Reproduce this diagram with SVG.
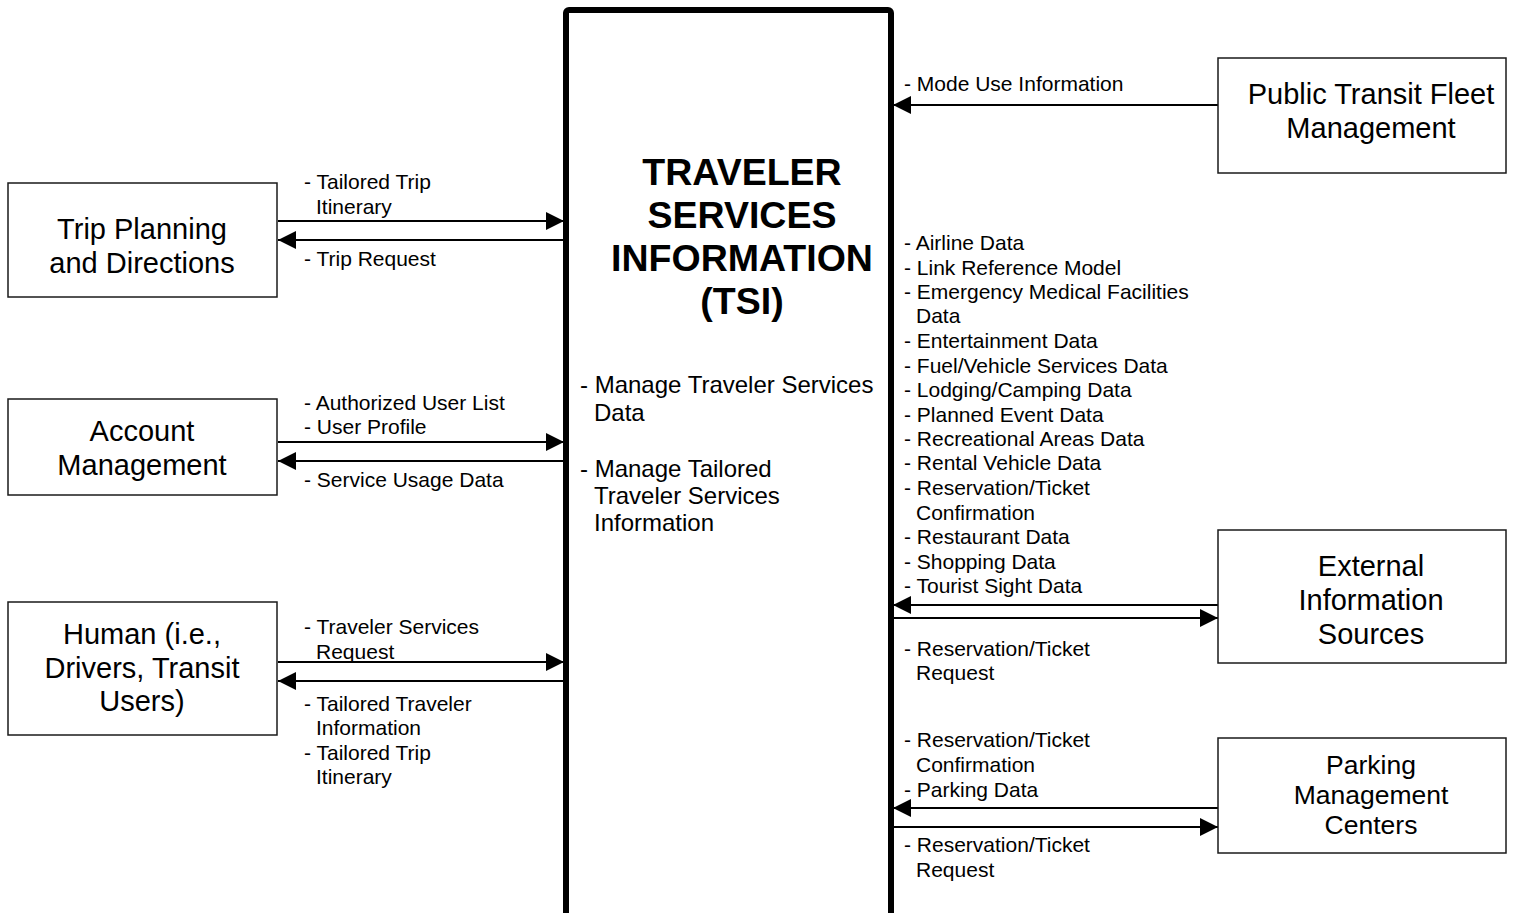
<svg xmlns="http://www.w3.org/2000/svg" width="1515" height="913" viewBox="0 0 1515 913">
<defs>
<style>
.box{fill:#fff;stroke:#1a1a1a;stroke-width:1.5}
.title{font-family:"Liberation Sans",Arial,sans-serif;font-size:29px;fill:#000;text-anchor:middle}
.lbl{font-family:"Liberation Sans",Arial,sans-serif;font-size:21px;fill:#000}
.body{font-family:"Liberation Sans",Arial,sans-serif;font-size:24px;fill:#000}
.big{font-family:"Liberation Sans",Arial,sans-serif;font-size:37.5px;font-weight:bold;fill:#000;text-anchor:middle}
.conn{stroke:#000;stroke-width:2;fill:none;marker-end:url(#arr)}
</style>
<marker id="arr" markerUnits="userSpaceOnUse" markerWidth="18" markerHeight="18" refX="18" refY="9" orient="auto">
<path d="M0,0 L18,9 L0,18 Z" fill="#000"/>
</marker>
</defs>
<rect width="1515" height="913" fill="#fff"/>

<g id="connectors">
<line class="conn" x1="278" y1="221" x2="564" y2="221"/>
<line class="conn" x1="564" y1="240" x2="278" y2="240"/>
<line class="conn" x1="278" y1="442" x2="564" y2="442"/>
<line class="conn" x1="564" y1="461" x2="278" y2="461"/>
<line class="conn" x1="278" y1="662" x2="564" y2="662"/>
<line class="conn" x1="564" y1="681" x2="278" y2="681"/>
<line class="conn" x1="1218" y1="105" x2="893" y2="105"/>
<line class="conn" x1="1218" y1="605" x2="893" y2="605"/>
<line class="conn" x1="893" y1="618" x2="1218" y2="618"/>
<line class="conn" x1="1218" y1="808" x2="893" y2="808"/>
<line class="conn" x1="893" y1="827" x2="1218" y2="827"/>
</g>

<g id="labels">
<text class="lbl" x="304" y="189">- Tailored Trip</text>
<text class="lbl" x="316" y="214">Itinerary</text>
<text class="lbl" x="304" y="266">- Trip Request</text>
<text class="lbl" x="304" y="410">- Authorized User List</text>
<text class="lbl" x="304" y="434">- User Profile</text>
<text class="lbl" x="304" y="487">- Service Usage Data</text>
<text class="lbl" x="304" y="634">- Traveler Services</text>
<text class="lbl" x="316" y="659">Request</text>
<text class="lbl" x="304" y="711">- Tailored Traveler</text>
<text class="lbl" x="316" y="735">Information</text>
<text class="lbl" x="304" y="760">- Tailored Trip</text>
<text class="lbl" x="316" y="784">Itinerary</text>

<text class="lbl" x="904" y="91">- Mode Use Information</text>
<text class="lbl" x="904" y="250">- Airline Data</text>
<text class="lbl" x="904" y="275">- Link Reference Model</text>
<text class="lbl" x="904" y="299">- Emergency Medical Facilities</text>
<text class="lbl" x="916" y="323">Data</text>
<text class="lbl" x="904" y="348">- Entertainment Data</text>
<text class="lbl" x="904" y="373">- Fuel/Vehicle Services Data</text>
<text class="lbl" x="904" y="397">- Lodging/Camping Data</text>
<text class="lbl" x="904" y="422">- Planned Event Data</text>
<text class="lbl" x="904" y="446">- Recreational Areas Data</text>
<text class="lbl" x="904" y="470">- Rental Vehicle Data</text>
<text class="lbl" x="904" y="495">- Reservation/Ticket</text>
<text class="lbl" x="916" y="520">Confirmation</text>
<text class="lbl" x="904" y="544">- Restaurant Data</text>
<text class="lbl" x="904" y="569">- Shopping Data</text>
<text class="lbl" x="904" y="593">- Tourist Sight Data</text>
<text class="lbl" x="904" y="656">- Reservation/Ticket</text>
<text class="lbl" x="916" y="680">Request</text>
<text class="lbl" x="904" y="747">- Reservation/Ticket</text>
<text class="lbl" x="916" y="772">Confirmation</text>
<text class="lbl" x="904" y="797">- Parking Data</text>
<text class="lbl" x="904" y="852">- Reservation/Ticket</text>
<text class="lbl" x="916" y="877">Request</text>
</g>

<g id="tsi">
<rect x="566" y="10" width="325" height="915" rx="3" fill="none" stroke="#000" stroke-width="6"/>
<text class="big" x="742" y="185">TRAVELER</text>
<text class="big" x="742" y="228">SERVICES</text>
<text class="big" x="742" y="271">INFORMATION</text>
<text class="big" x="742" y="314">(TSI)</text>
<text class="body" x="580" y="393">- Manage Traveler Services</text>
<text class="body" x="594" y="421">Data</text>
<text class="body" x="580" y="477">- Manage Tailored</text>
<text class="body" x="594" y="504">Traveler Services</text>
<text class="body" x="594" y="531">Information</text>
</g>

<g id="trip-planning">
<rect class="box" x="8" y="183" width="269" height="114"/>
<text class="title" x="142" y="239">Trip Planning</text>
<text class="title" x="142" y="273">and Directions</text>
</g>

<g id="account-management">
<rect class="box" x="8" y="399" width="269" height="96"/>
<text class="title" x="142" y="441">Account</text>
<text class="title" x="142" y="475">Management</text>
</g>

<g id="human">
<rect class="box" x="8" y="602" width="269" height="133"/>
<text class="title" x="142" y="644">Human (i.e.,</text>
<text class="title" x="142" y="678">Drivers, Transit</text>
<text class="title" x="142" y="711">Users)</text>
</g>

<g id="public-transit">
<rect class="box" x="1218" y="58" width="288" height="115"/>
<text class="title" x="1371" y="104">Public Transit Fleet</text>
<text class="title" x="1371" y="138">Management</text>
</g>

<g id="external-info">
<rect class="box" x="1218" y="530" width="288" height="133"/>
<text class="title" x="1371" y="576">External</text>
<text class="title" x="1371" y="610">Information</text>
<text class="title" x="1371" y="644">Sources</text>
</g>

<g id="parking">
<rect class="box" x="1218" y="738" width="288" height="115"/>
<text class="title" x="1371" y="774" style="font-size:26.5px">Parking</text>
<text class="title" x="1371" y="804" style="font-size:26.5px">Management</text>
<text class="title" x="1371" y="834" style="font-size:26.5px">Centers</text>
</g>
</svg>
